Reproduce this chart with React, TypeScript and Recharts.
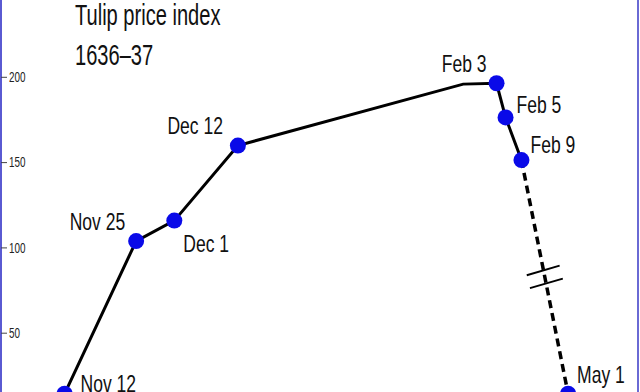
import React from "react";
import { LineChart, Line, XAxis, YAxis, ReferenceLine, LabelList } from "recharts";

const pointLabels = ["Nov 12", "Nov 25", "Dec 1", "Dec 12", "", "Feb 3", "Feb 5", "Feb 9", "May 1"];
// horizontal position of each point along the (broken) time axis
const axisPos = [0, 13.5, 20.7, 32.7, 75.2, 81.5, 83.2, 86.2, 95.0];
const priceIndex = [14.5, 104, 116, 160, 196, 196.5, 176.5, 151.5, 14.5];
const yTicks = [50, 100, 150, 200];
const titleLines = ["Tulip price index", "1636–37"];

const FONT = "'Liberation Sans', Arial, Helvetica, sans-serif";

const points = axisPos.map((pos, i) => ({ pos, value: priceIndex[i], label: pointLabels[i] }));
const crashStart = pointLabels.indexOf("Feb 9");
const solidData = points.slice(0, crashStart + 1);
const dashedData = points.slice(crashStart);

// "//" break mark halfway down the dashed segment
const from = points[crashStart];
const to = points[points.length - 1];
const mid = { x: (from.pos + to.pos) / 2, y: (from.value + to.value) / 2 };
const breakMarks = [-1, 1].map((s) => [
  { x: mid.x - 3.1 + s * 0.3, y: mid.y - 2.8 - s * 3.8 },
  { x: mid.x + 3.1 + s * 0.3, y: mid.y + 2.8 - s * 3.8 },
]);

// where each date label sits relative to its marker: dx, dy, anchor
const labelPlacement: Record<string, [number, number, "start" | "end"]> = {
  "Nov 12": [16, -2, "start"],
  "Nov 25": [-11, -11, "end"],
  "Dec 1": [9, 31, "start"],
  "Dec 12": [-15, -12, "end"],
  "Feb 3": [-10, -11, "end"],
  "Feb 5": [11, -4, "start"],
  "Feb 9": [9, -7, "start"],
  "May 1": [9, -11, "start"],
};

function PriceTick(props: any) {
  const { x, y, payload } = props;
  return (
    <g>
      <line x1={x} x2={x + 6} y1={y} y2={y} stroke="#444" strokeWidth={1} />
      <text
        transform={`translate(${x + 8},${y}) scale(0.66,1)`}
        fontSize={15}
        fill="#222"
        dominantBaseline="central"
        fontFamily={FONT}
      >
        {payload.value}
      </text>
    </g>
  );
}

function Marker(props: any) {
  const { cx, cy, payload, index } = props;
  if (!payload || !payload.label) return <g key={`m${index}`} />;
  return <circle key={`m${index}`} cx={cx} cy={cy} r={8} fill="#0a0ae8" />;
}

function PointLabel(props: any) {
  const { x, y, value } = props;
  if (!value || !labelPlacement[value]) return null;
  const [dx, dy, anchor] = labelPlacement[value];
  return (
    <text
      transform={`translate(${x + dx},${y + dy}) scale(0.73,1)`}
      textAnchor={anchor}
      fontSize={24}
      fill="#111"
      fontFamily={FONT}
    >
      {value}
    </text>
  );
}

export default function App() {
  return (
    <div style={{ position: "relative", width: 640, height: 392, overflow: "hidden", background: "#fff" }}>
      <style>{"body{margin:0}"}</style>
      <div style={{ position: "absolute", left: 0, top: -8 }}>
        <LineChart width={640} height={440} margin={{ top: 0, right: 3, bottom: 13.5, left: 1 }}>
          <XAxis type="number" dataKey="pos" domain={[-12, 108]} hide allowDataOverflow />
          <YAxis
            type="number"
            domain={[0, 250]}
            ticks={yTicks}
            interval={0}
            mirror
            axisLine={{ stroke: "#5a5ad2", strokeWidth: 2 }}
            tickLine={false}
            tickSize={0}
            tickMargin={0}
            tick={<PriceTick />}
          />
          <Line
            data={solidData}
            dataKey="value"
            stroke="#000"
            strokeWidth={3}
            dot={false}
            isAnimationActive={false}
          />
          <Line
            data={dashedData}
            dataKey="value"
            stroke="#000"
            strokeWidth={3.5}
            strokeDasharray="8 5"
            dot={false}
            isAnimationActive={false}
          />
          {breakMarks.map((seg, i) => (
            <ReferenceLine key={i} segment={seg} stroke="#000" strokeWidth={2} ifOverflow="visible" />
          ))}
          <Line
            data={points}
            dataKey="value"
            stroke="none"
            dot={<Marker />}
            activeDot={false}
            isAnimationActive={false}
          >
            <LabelList dataKey="label" content={<PointLabel />} />
          </Line>
        </LineChart>
      </div>
      <svg width={640} height={80} style={{ position: "absolute", left: 0, top: 0, pointerEvents: "none" }}>
        {titleLines.map((t, i) => (
          <text
            key={t}
            transform={`translate(75,${25 + i * 40}) scale(0.67,1)`}
            fontSize={30}
            fill="#111"
            fontFamily={FONT}
          >
            {t}
          </text>
        ))}
      </svg>
      <div style={{ position: "absolute", left: 637, top: 0, width: 2, height: 392, background: "#6a6ad4" }} />
    </div>
  );
}
